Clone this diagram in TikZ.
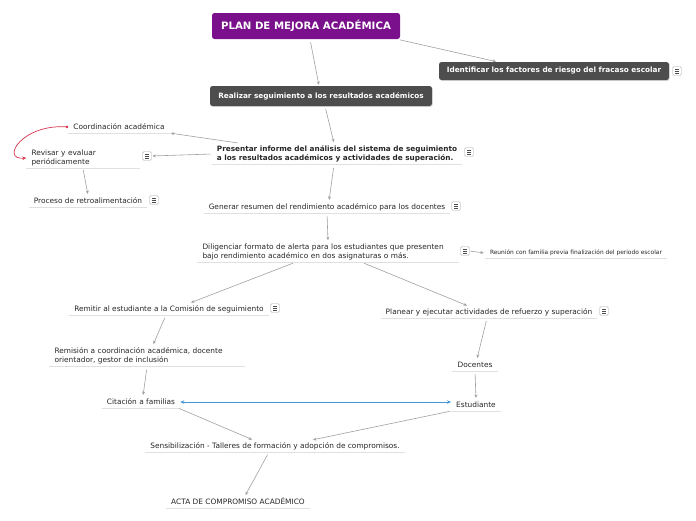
\documentclass[tikz,border=0pt]{standalone}
\usepackage{fontspec}
\setmainfont{DejaVu Sans}
\usetikzlibrary{arrows.meta,shadows}
\definecolor{mmpurple}{RGB}{122,16,140}
\definecolor{mmdark}{RGB}{77,77,77}
\definecolor{mmline}{RGB}{160,160,160}
\definecolor{mmred}{RGB}{214,52,80}
\definecolor{mmblue}{RGB}{66,150,214}
\begin{document}
\begin{tikzpicture}[x=1pt,y=-1pt,every node/.style={font=\fontsize{7.4}{9}\selectfont,text=black!85},
  base/.style={inner xsep=5pt,inner ysep=2.5pt,append after command={(\tikzlastnode.south west) edge[draw=black!12,line width=1pt] (\tikzlastnode.south east)}},
  topic/.style={base,text height=5.5pt,text depth=1.2pt},
  para/.style={base,align=left},
  darkbox/.style={fill=mmdark,text=white,rounded corners=2.5pt,font=\fontsize{7.3}{9}\selectfont\bfseries,drop shadow={shadow xshift=0.7pt,shadow yshift=-0.9pt,opacity=.3}},
  menu/.style={draw=gray!70,fill=white,rounded corners=1pt,minimum size=8.5pt,inner sep=0pt,
    path picture={\foreach \k in {-1.8,0,1.8} \draw[black!70,line width=0.5pt] ([xshift=-2.2pt,yshift=\k pt]path picture bounding box.center) -- ++(4.4pt,0pt);}},
  conn/.style={draw=mmline,line width=0.6pt,-{Stealth[length=3.5pt,width=3pt]},shorten <=3pt,shorten >=1pt}]
\useasboundingbox (0,0) rectangle (696,520);
% main branch
\node[fill=mmpurple,text=white,rounded corners=2.5pt,minimum width=188pt,minimum height=26pt,font=\fontsize{10.2}{12}\selectfont\bfseries] (plan) at (306,26) {PLAN DE MEJORA ACADÉMICA};
\node[darkbox,minimum width=230pt,minimum height=18pt] (factores) at (554,71) {Identificar los factores de riesgo del fracaso escolar};
\node[darkbox,minimum width=222pt,minimum height=20pt] (realizar) at (321,96) {Realizar seguimiento a los resultados académicos};
\node[para,font=\fontsize{7.3}{9}\selectfont\bfseries] (presentar) at (337,154) {Presentar informe del análisis del sistema de seguimiento\\a los resultados académicos y actividades de superación.};
\node[topic] (coord) at (119,127) {Coordinación académica};
\node[para,text width=103pt] (revisar) at (83,158) {Revisar y evaluar\\periódicamente};
\node[topic] (proceso) at (88,201) {Proceso de retroalimentación};
\node[topic] (generar) at (327,207) {Generar resumen del rendimiento académico para los docentes};
\node[para,text width=251pt] (diligenciar) at (328,252) {Diligenciar formato de alerta para los estudiantes que presenten\\bajo rendimiento académico en dos asignaturas o más.};
\node[topic,font=\fontsize{5.9}{7}\selectfont,text height=4.4pt,text depth=1.1pt] (reunion) at (576,253) {Reunión con familia previa finalización del periodo escolar};
% left and right branches
\node[topic] (remitir) at (169,309) {Remitir al estudiante a la Comisión de seguimiento};
\node[para,text width=185pt] (remision) at (147,356) {Remisión a coordinación académica, docente\\orientador, gestor de inclusión};
\node[topic] (citacion) at (141,402) {Citación a familias};
\node[topic] (planear) at (489,312) {Planear y ejecutar actividades de refuerzo y superación};
\node[topic] (docentes) at (475,365) {Docentes};
\node[topic] (estudiante) at (476,405) {Estudiante};
\node[topic] (sensib) at (275,446) {Sensibilización - Talleres de formación y adopción de compromisos.};
\node[topic] (acta) at (238,502) {ACTA DE COMPROMISO ACADÉMICO};
% menu icons
\foreach \n/\x/\y in {factores/677/71,presentar/469/152,revisar/147/156,proceso/154/200,generar/456/206,diligenciar/465/251,remitir/275/308,planear/604/311}
  \node[menu] (m-\n) at (\x,\y) {};
% connectors
\draw[conn] ([xshift=4pt]plan.south) -- ([xshift=-2pt]realizar.north);
\draw[conn] ([xshift=-3pt]plan.south east) -- ([xshift=-57pt]factores.north);
\draw[conn] ([xshift=4pt]realizar.south) -- ([xshift=-3pt]presentar.north);
\draw[conn,shorten <=1pt] ([xshift=27pt]presentar.north west) -- (coord.south east);
\draw[conn,shorten <=1pt] (presentar.west) -- (m-revisar.east);
\draw[mmred,line width=0.7pt,{Circle[length=2.6pt]}-{Stealth[length=4pt,width=3.5pt]}] (coord.west) .. controls (22,124) and (0,160) .. (revisar.west);
\draw[conn,shorten <=1pt] (revisar.south) -- (proceso.north);
\draw[conn] ([xshift=-3pt]presentar.south) -- ([xshift=2pt]generar.north);
\draw[conn] (generar.south) -- (diligenciar.north);
\draw[conn,shorten <=1pt] (m-diligenciar.east) -- (reunion.west);
\draw[conn,shorten <=1pt] ([xshift=-34pt]diligenciar.south) -- ([xshift=21pt]remitir.north);
\draw[conn,shorten <=1pt] ([xshift=35pt]diligenciar.south) -- ([xshift=-21pt]planear.north);
\draw[conn] ([xshift=-3pt]remitir.south) -- ([xshift=6pt]remision.north);
\draw[conn] (remision.south) -- ([xshift=2pt]citacion.north);
\draw[conn] ([xshift=-2pt]planear.south) -- ([xshift=2pt]docentes.north);
\draw[conn] (docentes.south) -- (estudiante.north);
\draw[mmblue,line width=0.8pt,{Stealth[length=4pt,width=3.5pt]}-{Stealth[length=4pt,width=3.5pt]}] (citacion.east) -- (citacion.east -| estudiante.west);
\draw[conn,shorten <=1pt] ([xshift=-2pt]citacion.south east) -- ([xshift=-22pt]sensib.north);
\draw[conn,shorten <=1pt] (estudiante.south west) -- ([xshift=37pt]sensib.north);
\draw[conn] ([xshift=-6pt]sensib.south) -- ([xshift=7pt]acta.north);
\end{tikzpicture}
\end{document}
